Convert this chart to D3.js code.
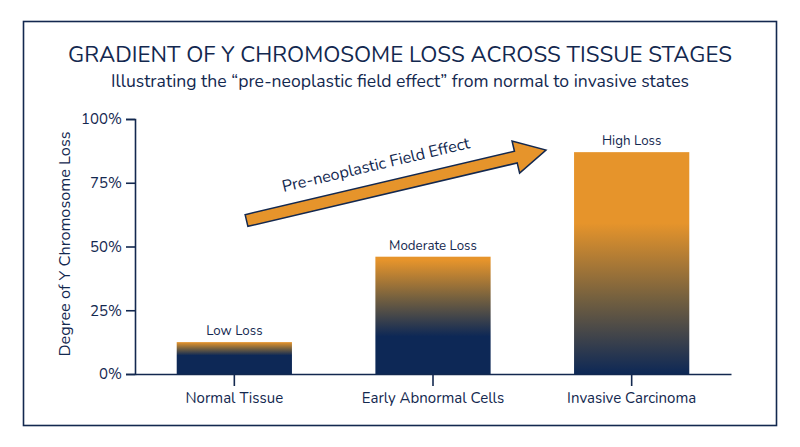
<!DOCTYPE html>
<html><head><meta charset="utf-8">
<script src="https://cdn.jsdelivr.net/npm/d3@7"></script>
<style>
html,body{margin:0;padding:0;background:#fff;}
text{font-family:"Nunito","Lato","Noto Sans",sans-serif;}
</style></head>
<body>
<svg id="chart" width="800" height="447"></svg>
<script>
const categories = ["Normal Tissue", "Early Abnormal Cells", "Invasive Carcinoma"];
const values = [12.5, 46, 87];
const barLabels = ["Low Loss", "Moderate Loss", "High Loss"];
const yTicks = [0, 25, 50, 75, 100];
const titleText = "GRADIENT OF Y CHROMOSOME LOSS ACROSS TISSUE STAGES";
const subtitleText = "Illustrating the \u201cpre-neoplastic field effect\u201d from normal to invasive states";
const yLabel = "Degree of Y Chromosome Loss";
const arrowLabel = "Pre-neoplastic Field Effect";

// styling
const navy = "#13284f";
const barBlue = "#0d2856";
const orange = "#e6942b";
// per-bar gradient stops [orangeEnd, blueStart] as fraction from bar top
const gradStops = [[0.0, 0.42], [0.03, 0.68], [0.32, 1.0]];

const svg = d3.select("#chart");
svg.append("rect").attr("x", 23.5).attr("y", 21.5).attr("width", 753).attr("height", 404)
  .attr("fill", "#fff").attr("stroke", navy).attr("stroke-width", 1.6);

svg.append("text").attr("x", 400).attr("y", 62).attr("text-anchor", "middle")
  .attr("font-size", 22.3).attr("fill", navy).text(titleText);
svg.append("text").attr("x", 400).attr("y", 87).attr("text-anchor", "middle")
  .attr("font-size", 17.6).attr("fill", navy).text(subtitleText);

const x = d3.scaleBand().domain(categories).range([135, 731]).paddingInner(0.42).paddingOuter(0.21);
const y = d3.scaleLinear().domain([0, 100]).range([374, 119]);

const defs = svg.append("defs");
categories.forEach((c, i) => {
  const g = defs.append("linearGradient").attr("id", "g" + i)
    .attr("x1", 0).attr("y1", 0).attr("x2", 0).attr("y2", 1);
  g.append("stop").attr("offset", gradStops[i][0]).attr("stop-color", orange);
  g.append("stop").attr("offset", (gradStops[i][0] * 0.5 + gradStops[i][1] * 0.5)).attr("stop-color", "#74603f");
  g.append("stop").attr("offset", gradStops[i][1]).attr("stop-color", barBlue);
  g.append("stop").attr("offset", 1).attr("stop-color", barBlue);
});

svg.append("g").selectAll("rect").data(categories).join("rect")
  .attr("x", d => x(d)).attr("width", x.bandwidth())
  .attr("y", (d, i) => y(values[i])).attr("height", (d, i) => y(0) - y(values[i]))
  .attr("fill", (d, i) => `url(#g${i})`);

svg.append("g").selectAll("text").data(categories).join("text")
  .attr("x", d => x(d) + x.bandwidth() / 2).attr("y", (d, i) => y(values[i]) - 7)
  .attr("text-anchor", "middle").attr("font-size", 13.3).attr("fill", navy)
  .text((d, i) => barLabels[i]);

const yAxis = svg.append("g").attr("transform", "translate(135,0)")
  .call(d3.axisLeft(y).tickValues(yTicks).tickFormat(d => d + "%").tickSize(9).tickPadding(4));
yAxis.selectAll("text").attr("font-size", 15).attr("fill", navy);
yAxis.selectAll("line,path").attr("stroke", navy).attr("stroke-width", 1.6);

const xAxis = svg.append("g").attr("transform", "translate(0,374)")
  .call(d3.axisBottom(x).tickSize(12).tickSizeOuter(0).tickPadding(6));
xAxis.selectAll("text").attr("font-size", 15).attr("fill", navy);
xAxis.selectAll("line,path").attr("stroke", navy).attr("stroke-width", 1.6);

svg.append("text").attr("transform", "translate(70,244) rotate(-90)")
  .attr("text-anchor", "middle").attr("font-size", 16.3).attr("fill", navy).text(yLabel);

// arrow
const tail = [246.5, 220.5], tip = [546, 150];
const ang = Math.atan2(tip[1] - tail[1], tip[0] - tail[0]);
const len = Math.hypot(tip[0] - tail[0], tip[1] - tail[1]);
const sw = 6, hw = 16.5, hl = 31;
const pts = [[0, -sw], [len - hl, -sw], [len - hl, -hw], [len, 0], [len - hl, hw], [len - hl, sw], [0, sw]];
svg.append("polygon")
  .attr("points", pts.map(p => p.join(",")).join(" "))
  .attr("transform", `translate(${tail[0]},${tail[1]}) rotate(${ang * 180 / Math.PI})`)
  .attr("fill", orange).attr("stroke", navy).attr("stroke-width", 1.5).attr("stroke-linejoin", "miter");
svg.append("text")
  .attr("transform", `translate(377,170) rotate(${ang * 180 / Math.PI})`)
  .attr("text-anchor", "middle").attr("font-size", 16.3).attr("fill", navy).text(arrowLabel);
</script>
</body></html>
